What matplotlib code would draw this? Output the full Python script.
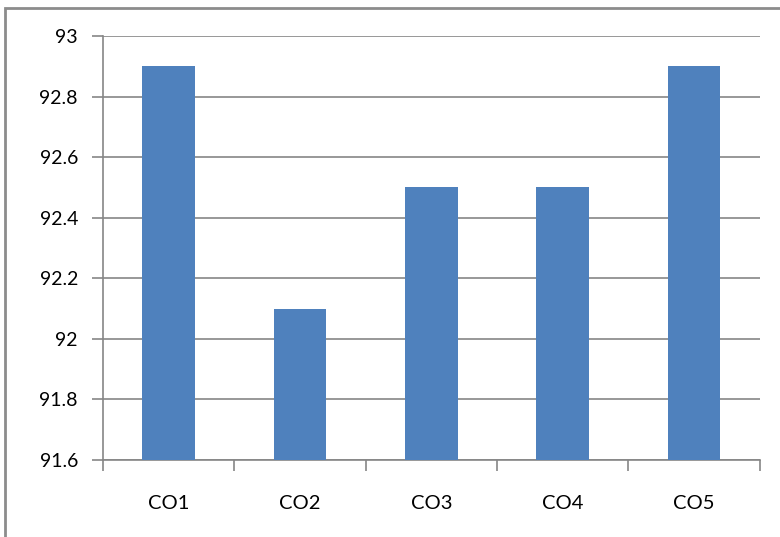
import numpy as np
import matplotlib
matplotlib.use("Agg")
import matplotlib.pyplot as plt
from matplotlib.patches import Rectangle

categories = ["CO1", "CO2", "CO3", "CO4", "CO5"]
values = [92.9, 92.1, 92.5, 92.5, 92.9]
y_ticks = [91.6, 91.8, 92.0, 92.2, 92.4, 92.6, 92.8, 93.0]
y_labels = ["91.6", "91.8", "92", "92.2", "92.4", "92.6", "92.8", "93"]

plt.rcParams["font.family"] = ["Lato", "DejaVu Sans"]

fig = plt.figure(figsize=(7.8, 5.37), dpi=100)
ax = fig.add_axes([0.132, 0.1434, 0.842, 0.7896])

grid_col = "#868686"
x = np.arange(len(categories))
ax.bar(x, values, width=0.4, color="#4F81BD", zorder=3)

ax.set_xlim(-0.5, len(categories) - 0.5)
ax.set_ylim(91.6, 93.0)
ax.set_yticks(y_ticks)
ax.set_yticklabels(y_labels, fontsize=14)
ax.set_xticks(x)
ax.set_xticklabels(categories, fontsize=14.5)
ax.set_xticks(np.arange(-0.5, len(categories)), minor=True)

ax.yaxis.grid(True, color=grid_col, linewidth=1.2, zorder=0)
for s in ["top", "right"]:
    ax.spines[s].set_visible(False)
for s in ["left", "bottom"]:
    ax.spines[s].set_color(grid_col)
    ax.spines[s].set_linewidth(1.2)

ax.tick_params(axis="y", length=8, width=1.2, color=grid_col, pad=10)
ax.tick_params(axis="x", which="major", length=0, pad=25)
ax.tick_params(axis="x", which="minor", length=8, width=1.2, color=grid_col)

# outer chart border (cut off at right and bottom)
fig.patches.append(Rectangle((5 / 780, -0.05), 1.0, 1 - 8 / 537 + 0.05,
                             transform=fig.transFigure, fill=False,
                             edgecolor="#8c8c8c", linewidth=2))

fig.savefig("out.png", dpi=100)
